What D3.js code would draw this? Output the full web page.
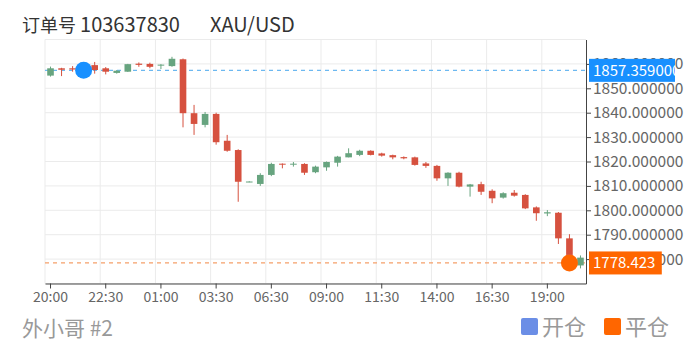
<!DOCTYPE html>
<html>
<head>
<meta charset="utf-8">
<script src="https://cdn.jsdelivr.net/npm/d3@7/dist/d3.min.js"></script>
<style>
  body { margin: 0; background: #fff; }
  svg { display: block; font-family: "Noto Sans CJK SC", "Noto Sans", sans-serif; }
</style>
</head>
<body>
<div id="chart"></div>
<script>
// 30 minute candles, one day of XAU/USD
const categories = [
  '20:00', '20:30', '21:00', '21:30', '22:00', '22:30', '23:00', '23:30', '00:00', '00:30',
  '01:00', '01:30', '02:00', '02:30', '03:00', '03:30', '04:00', '04:30', '05:00', '06:00',
  '06:30', '07:00', '07:30', '08:00', '08:30', '09:00', '09:30', '10:00', '10:30', '11:00',
  '11:30', '12:00', '12:30', '13:00', '13:30', '14:00', '14:30', '15:00', '15:30', '16:00',
  '16:30', '17:00', '17:30', '18:00', '18:30', '19:00', '19:30', '20:00', '20:30'
];
const opens = [
  1855.2, 1858.2, 1858.2, 1857.8, 1859.5, 1858.2, 1856.3, 1856.8, 1860.1, 1860.0,
  1859.4, 1859.1, 1861.9, 1839.8, 1835.0, 1839.5, 1828.5, 1824.7, 1811.6, 1810.8,
  1814.5, 1819.1, 1818.8, 1819.0, 1815.6, 1817.6, 1819.5, 1821.7, 1822.7, 1824.4,
  1823.3, 1822.6, 1821.8, 1821.7, 1819.2, 1818.2, 1813.1, 1815.4, 1809.7, 1810.7,
  1808.0, 1805.2, 1807.2, 1806.3, 1801.2, 1798.7, 1799.0, 1788.5, 1777.4
];
const closes = [
  1858.2, 1857.6, 1857.7, 1858.5, 1857.5, 1856.8, 1857.2, 1859.9, 1859.6, 1858.8,
  1859.7, 1862.1, 1839.8, 1835.4, 1839.5, 1827.9, 1824.4, 1811.7, 1811.8, 1814.5,
  1819.0, 1818.7, 1819.1, 1815.4, 1817.9, 1819.8, 1822.0, 1823.4, 1824.4, 1822.7,
  1822.4, 1821.7, 1821.3, 1818.6, 1818.2, 1813.1, 1815.4, 1809.7, 1810.6, 1807.6,
  1804.9, 1807.0, 1806.0, 1800.8, 1798.8, 1799.2, 1788.5, 1781.7, 1780.6
];
const lows = [
  1854.8, 1855.0, 1856.8, 1857.0, 1856.0, 1855.7, 1856.0, 1856.7, 1858.8, 1858.2,
  1857.9, 1858.8, 1834.0, 1830.9, 1834.0, 1826.9, 1824.0, 1803.5, 1811.5, 1810.0,
  1814.0, 1817.2, 1817.9, 1814.5, 1815.2, 1816.2, 1817.9, 1821.7, 1822.2, 1822.5,
  1822.0, 1820.9, 1820.9, 1818.3, 1817.4, 1812.1, 1810.0, 1809.4, 1805.6, 1806.3,
  1802.9, 1804.8, 1805.6, 1800.5, 1795.7, 1797.6, 1786.2, 1779.0, 1776.2
];
const highs = [
  1858.9, 1858.4, 1859.1, 1859.0, 1860.8, 1858.7, 1857.5, 1860.0, 1860.6, 1860.5,
  1859.9, 1862.9, 1862.2, 1843.2, 1840.3, 1840.0, 1830.9, 1825.0, 1811.9, 1815.2,
  1819.5, 1819.2, 1819.8, 1819.3, 1818.3, 1820.0, 1822.3, 1825.4, 1824.8, 1824.6,
  1823.6, 1822.8, 1822.1, 1822.0, 1819.8, 1818.6, 1815.6, 1815.8, 1810.8, 1811.7,
  1808.6, 1807.4, 1808.3, 1806.6, 1801.6, 1800.1, 1799.3, 1790.2, 1781.5
];
const yTicks = [1780, 1790, 1800, 1810, 1820, 1830, 1840, 1850, 1860];
const trades = [
  { name: '开仓', index: 3, price: 1857.359, label: '1857.359000' },
  { name: '平仓', index: 47, price: 1778.423, label: '1778.423' }
];

const width = 697, height = 349;
const grid = { left: 45, right: 586, top: 39.5, bottom: 283.5 };
const upColor = '#67a47f';
const downColor = '#d6513f';
const tradeColors = ['#1890ff', '#ff6600'];
const lineColors = ['#6cb8f0', '#f5a06a'];
const legendColors = ['#6b8ee6', '#ff6600'];

const svg = d3.select('#chart').append('svg')
  .attr('width', width)
  .attr('height', height);

// the original canvas ends before the window edge
svg.append('clipPath').attr('id', 'canvasClip')
  .append('rect').attr('x', 0).attr('y', 0).attr('width', 675).attr('height', height);

const x = d3.scaleBand()
  .domain(d3.range(categories.length))
  .range([grid.left, grid.right]);

const y = d3.scaleLinear()
  .domain([1770, 1870])
  .range([grid.bottom, grid.top]);

// grid lines
const gridG = svg.append('g');
gridG.selectAll('.hgrid')
  .data(d3.range(1770, 1871, 10))
  .join('line')
  .attr('x1', grid.left).attr('x2', grid.right)
  .attr('y1', (d) => y(d)).attr('y2', (d) => y(d))
  .attr('stroke', '#ebebeb');
gridG.selectAll('.vgrid')
  .data(d3.range(0, categories.length, 5))
  .join('line')
  .attr('x1', (d) => x(d)).attr('x2', (d) => x(d))
  .attr('y1', grid.top).attr('y2', grid.bottom)
  .attr('stroke', '#ebebeb');

// price lines of the trades
svg.selectAll('.priceLine')
  .data(trades)
  .join('line')
  .attr('x1', grid.left).attr('x2', grid.right)
  .attr('y1', (d) => y(d.price)).attr('y2', (d) => y(d.price))
  .attr('stroke', (d, i) => lineColors[i])
  .attr('stroke-width', 1.2)
  .attr('stroke-dasharray', '4,4');

// candles
const bodyWidth = x.bandwidth() * 0.6;
const candles = svg.append('g').selectAll('g')
  .data(categories.map((c, i) => ({
    i, open: opens[i], close: closes[i], low: lows[i], high: highs[i]
  })))
  .join('g');

candles.append('line')
  .attr('x1', (d) => x(d.i) + x.bandwidth() / 2)
  .attr('x2', (d) => x(d.i) + x.bandwidth() / 2)
  .attr('y1', (d) => y(d.high))
  .attr('y2', (d) => y(d.low))
  .attr('stroke', (d) => d.close >= d.open ? upColor : downColor);

candles.append('rect')
  .attr('x', (d) => x(d.i) + (x.bandwidth() - bodyWidth) / 2)
  .attr('width', bodyWidth)
  .attr('y', (d) => y(Math.max(d.open, d.close)))
  .attr('height', (d) => Math.max(1, Math.abs(y(d.open) - y(d.close))))
  .attr('fill', (d) => d.close >= d.open ? upColor : downColor);

// trade markers
svg.selectAll('.trade')
  .data(trades)
  .join('circle')
  .attr('cx', (d) => x(d.index) + x.bandwidth() / 2)
  .attr('cy', (d) => y(d.price))
  .attr('r', 8.5)
  .attr('fill', (d, i) => tradeColors[i]);

// axes
const xAxis = d3.axisBottom(x)
  .tickValues(d3.range(0, categories.length, 5))
  .tickFormat((i) => categories[i])
  .tickSize(5)
  .tickSizeOuter(0);

const xg = svg.append('g')
  .attr('transform', `translate(0,${grid.bottom})`)
  .call(xAxis);
xg.select('.domain').attr('stroke', '#444');
xg.selectAll('.tick line').attr('stroke', '#444');
xg.selectAll('.tick text')
  .attr('fill', '#666')
  .attr('font-size', 14)
  .attr('font-family', '"Noto Sans CJK SC", sans-serif')
  .attr('dy', '0.75em');

const yAxis = d3.axisRight(y)
  .tickValues(yTicks)
  .tickFormat(d3.format('.6f'))
  .tickSize(5)
  .tickSizeOuter(0);

const yg = svg.append('g')
  .attr('transform', `translate(${grid.right},0)`)
  .attr('clip-path', 'url(#canvasClip)')
  .call(yAxis);
yg.select('.domain').attr('stroke', '#444');
yg.selectAll('.tick line').attr('stroke', '#444');
yg.selectAll('.tick text')
  .attr('fill', '#666')
  .attr('font-size', 15.5)
  .attr('font-family', '"Noto Sans CJK SC", sans-serif')
  .attr('x', 7);

// price labels on the axis
const labels = svg.append('g').attr('clip-path', 'url(#canvasClip)')
  .selectAll('g')
  .data(trades)
  .join('g')
  .attr('transform', (d) => `translate(589,${y(d.price)})`);
labels.append('rect')
  .attr('x', 0)
  .attr('y', -11.5)
  .attr('height', 23)
  .attr('width', (d) => d.label.length * 8.1 + 8)
  .attr('fill', (d, i) => tradeColors[i]);
labels.append('text')
  .attr('x', 4)
  .attr('dy', '0.35em')
  .attr('fill', '#fff')
  .attr('font-size', 15)
  .text((d) => d.label);

// title
const title = svg.append('text')
  .attr('x', 22).attr('y', 32)
  .attr('fill', '#333');
title.append('tspan').attr('font-size', 18).text('订单号 ');
title.append('tspan').attr('font-size', 20).text('103637830');
svg.append('text')
  .attr('x', 210).attr('y', 32)
  .attr('font-size', 20)
  .attr('fill', '#333')
  .text('XAU/USD');

// footer
svg.append('text')
  .attr('x', 22).attr('y', 336)
  .attr('font-size', 21)
  .attr('fill', '#999')
  .text('外小哥 #2');

const legend = svg.append('g').selectAll('g')
  .data(trades)
  .join('g')
  .attr('transform', (d, i) => `translate(${521 + i * 83},318)`);
legend.append('rect')
  .attr('width', 17).attr('height', 17)
  .attr('rx', 2)
  .attr('fill', (d, i) => legendColors[i]);
legend.append('text')
  .attr('x', 21).attr('y', 17)
  .attr('font-size', 22)
  .attr('fill', '#999')
  .text((d) => d.name);
</script>
</body>
</html>
